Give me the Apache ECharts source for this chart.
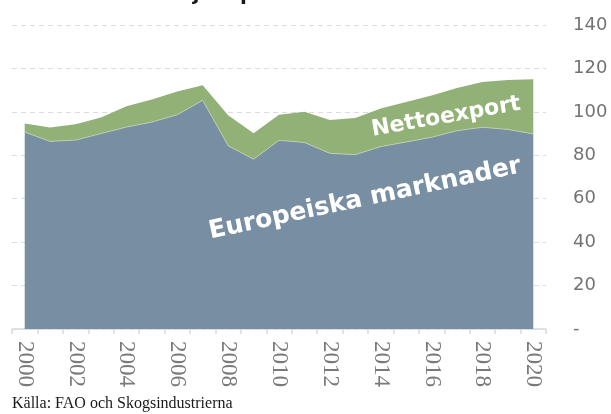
<!DOCTYPE html>
<html>
<head>
<meta charset="utf-8">
<script src="https://cdn.jsdelivr.net/npm/echarts@6/dist/echarts.min.js"></script>
<style>
html,body{margin:0;padding:0;background:#fff;}
#chart{width:611px;height:414px;}
</style>
</head>
<body>
<div id="chart"></div>
<script>
// Data
const years = ['2000','2001','2002','2003','2004','2005','2006','2007','2008','2009','2010',
               '2011','2012','2013','2014','2015','2016','2017','2018','2019','2020'];
const europeiskaMarknader = [90.7, 86.4, 87.0, 90.0, 93.0, 95.3, 98.7, 105.3, 84.4, 78.2, 86.9,
                             85.9, 80.9, 80.3, 84.0, 86.1, 88.3, 91.3, 92.9, 91.9, 89.8];
const nettoexport = [3.9, 6.4, 7.3, 7.4, 9.6, 10.4, 10.7, 6.9, 14.0, 11.9, 11.8,
                     14.2, 15.3, 16.9, 17.6, 18.4, 19.2, 19.7, 20.8, 22.8, 25.2];
const yMin = 0, yMax = 140, yStep = 20;
const titleText = 'samt översjöexport';
const sourceText = 'Källa: FAO och Skogsindustrierna';
const labelEurope = 'Europeiska marknader';
const labelNetto = 'Nettoexport';

const chart = echarts.init(document.getElementById('chart'), null, {renderer: 'canvas'});
const deg = Math.PI / 180;
chart.setOption({
  animation: false,
  backgroundColor: '#ffffff',
  grid: {left: 12, right: 65, top: 25, bottom: 85, containLabel: false},
  xAxis: {
    type: 'category',
    data: years,
    boundaryGap: true,
    axisLine: {show: true, lineStyle: {color: '#d9d9d9', width: 1.5}},
    axisTick: {show: true, interval: 0, length: 5, lineStyle: {color: '#d9d9d9', width: 1.5}},
    axisLabel: {
      interval: 1, rotate: -90, margin: 12,
      fontFamily: 'Liberation Sans Narrow', fontSize: 23, color: '#7a7a7a'
    },
    splitLine: {show: false}
  },
  yAxis: {
    type: 'value',
    position: 'right',
    min: yMin, max: yMax, interval: yStep,
    axisLine: {show: false},
    axisTick: {show: false},
    axisLabel: {
      margin: 27, fontFamily: 'DejaVu Sans', fontSize: 18, color: '#737373',
      formatter: v => v === 0 ? '-' : String(v)
    },
    splitLine: {show: true, lineStyle: {color: '#dcdcdc', type: [5, 4], width: 1}}
  },
  series: [
    {
      name: labelEurope, type: 'line', stack: 'total', data: europeiskaMarknader,
      symbol: 'none', lineStyle: {width: 0.8, color: '#c3d3b2'},
      areaStyle: {color: '#788fa3', opacity: 1}, z: 2
    },
    {
      name: labelNetto, type: 'line', stack: 'total', data: nettoexport,
      symbol: 'none', lineStyle: {width: 0},
      areaStyle: {color: '#92b176', opacity: 1}, z: 1
    }
  ],
  graphic: [
    {type: 'text', left: 68, top: -15, z: 10,
     style: {text: titleText, font: 'bold 20px "DejaVu Sans"', fill: '#1a1a1a'}},
    {type: 'text', x: 12, y: 412, z: 10,
     style: {text: sourceText, font: '16px "Liberation Serif"', fill: '#1a1a1a', textVerticalAlign: 'bottom'}},
    {type: 'text', x: 365, y: 199, rotation: 12 * deg, z: 10,
     style: {text: labelEurope, font: 'bold 25px "DejaVu Sans"', fill: '#ffffff',
             textAlign: 'center', textVerticalAlign: 'middle'}},
    {type: 'text', x: 446, y: 117, rotation: 10 * deg, z: 10,
     style: {text: labelNetto, font: 'bold 22px "DejaVu Sans"', fill: '#ffffff',
             textAlign: 'center', textVerticalAlign: 'middle'}}
  ]
});
</script>
</body>
</html>
